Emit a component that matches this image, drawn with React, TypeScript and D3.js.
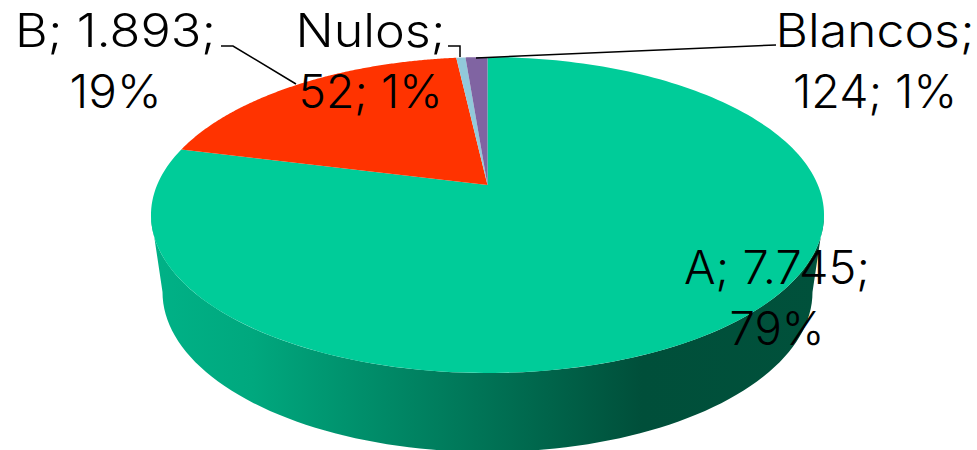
import React from "react";
import * as d3 from "d3";

const categories = ["A", "B", "Nulos", "Blancos"];
const seriesValues = [7745, 1893, 52, 124];
const sliceColors = ["#00CC99", "#FF3300", "#92C9DA", "#8064A2"];
const labelLines = [
  ["B; 1.893;", "19%"],
  ["Nulos;", "52; 1%"],
  ["Blancos;", "124; 1%"],
  ["A; 7.745;", "79%"],
];
const labelWidths = [[201, 92], [150, 144], [199, 164], [186, 95]];
const labelCenters = [[115.5, 47], [370.5, 47], [875, 47], [777, 284]];
const leaders = [
  [[221, 46], [233, 46], [296, 84]],
  [[448, 46], [460, 46], [460, 57]],
  [[476, 58], [776, 45]],
];

const apexX = 487.5, a = 117.1, b = 185, c = -0.19, k = 330.4;
function project(angle: number): [number, number] {
  const u = Math.sin(angle), v = -Math.cos(angle);
  const w = 1 + c * v;
  return [apexX + (k * u) / w, (a * v + b) / w];
}

const pie = d3.pie<number>().sort(null).startAngle(0).endAngle(2 * Math.PI);
const line = d3.line();
const ellipseY = (cy: number, ry: number, t: number) => cy + ry * Math.sin(t);
const ellipseX = (rx: number, t: number) => apexX + rx * Math.cos(t);

function wallPath() {
  const pts: [number, number][] = [];
  d3.range(0, 181, 2).forEach((d) => {
    const t = (d * Math.PI) / 180;
    pts.push([ellipseX(336.5, t), ellipseY(215, 158, t)]);
  });
  d3.range(180, -1, -2).forEach((d) => {
    const t = (d * Math.PI) / 180;
    pts.push([ellipseX(325, t), ellipseY(292, 160, t)]);
  });
  return line(pts)!;
}

export default function App() {
  const arcs = pie(seriesValues);
  return (
    <svg width={977} height={450} style={{ position: "absolute", left: 0, top: 0 }}>
      <defs>
        <linearGradient id="wall" gradientUnits="userSpaceOnUse" x1={151} x2={824} y1={0} y2={0}>
          <stop offset="0" stopColor="#00B287" />
          <stop offset="0.15" stopColor="#00A87E" />
          <stop offset="0.73" stopColor="#004F3A" />
          <stop offset="1" stopColor="#00513B" />
        </linearGradient>
      </defs>
      <path d={wallPath()} fill="url(#wall)" />
      {arcs.map((s, i) => {
        const n = 200;
        const pts: [number, number][] = [[apexX, b]];
        d3.range(n + 1).forEach((j) => {
          pts.push(project(s.startAngle + ((s.endAngle - s.startAngle) * j) / n));
        });
        return <path key={categories[i]} d={line(pts)! + "Z"} fill={sliceColors[i]} />;
      })}
      {leaders.map((l, i) => (
        <path key={i} d={line(l as [number, number][])!} fill="none" stroke="#000" strokeWidth={1.5} />
      ))}
      <g fontFamily="Inter" fontWeight={300} fontSize={46} fill="#000" textAnchor="middle">
        {labelLines.map((ls, i) =>
          ls.map((t, j) => (
            <text
              key={`${i}-${j}`}
              x={labelCenters[i][0]}
              y={labelCenters[i][1] + j * 61}
              textLength={labelWidths[i][j]}
              lengthAdjust="spacingAndGlyphs"
            >
              {t}
            </text>
          ))
        )}
      </g>
    </svg>
  );
}
